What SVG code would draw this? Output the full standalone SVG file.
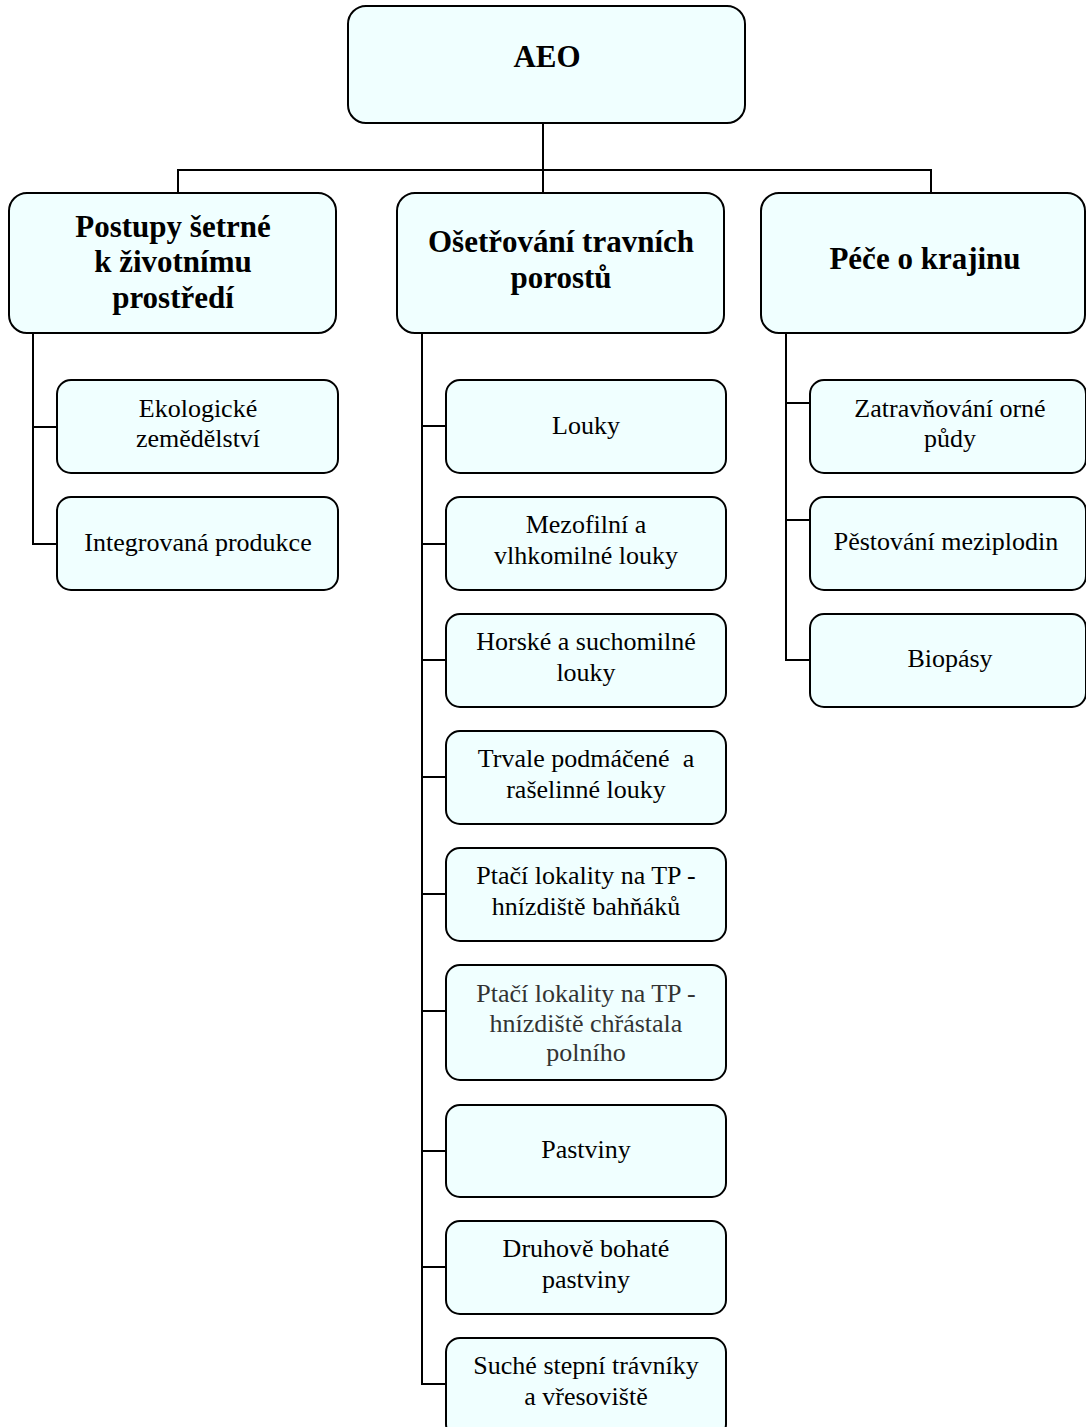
<svg xmlns="http://www.w3.org/2000/svg" width="1086" height="1427" viewBox="0 0 1086 1427">
<style>
.box{fill:#f0ffff;stroke:#000;stroke-width:2}
.h{font-family:"Liberation Serif",serif;font-weight:bold;font-size:31px;text-anchor:middle;fill:#000}
.t{font-family:"Liberation Serif",serif;font-size:26px;text-anchor:middle;fill:#000}
.g{fill:#333}
.c{fill:none;stroke:#000;stroke-width:2}
</style>
<rect width="1086" height="1427" fill="#fff"/>
<g id="connectors">
<path class="c" d="M543,123V193M178,193V170H931V193"/>
<path class="c" d="M33,333V544H57M33,427H57"/>
<path class="c" d="M422,333V1384H446M422,426H446M422,544H446M422,660H446M422,777H446M422,894H446M422,1011H446M422,1151H446M422,1267H446"/>
<path class="c" d="M786,333V660H810M786,403H810M786,520H810"/>
</g>
<g id="aeo"><rect class="box" x="348" y="6" width="397" height="117" rx="18"/><text class="h" x="547" y="67">AEO</text></g>
<g id="postupy"><rect class="box" x="9" y="193" width="327" height="140" rx="18"/><text class="h" x="173" y="237">Postupy šetrné</text><text class="h" x="173" y="272">k životnímu</text><text class="h" x="173" y="308">prostředí</text></g>
<g id="osetrovani"><rect class="box" x="397" y="193" width="327" height="140" rx="18"/><text class="h" x="561" y="252">Ošetřování travních</text><text class="h" x="561" y="288">porostů</text></g>
<g id="pece"><rect class="box" x="761" y="193" width="324" height="140" rx="18"/><text class="h" x="925" y="269">Péče o krajinu</text></g>
<g id="ekologicke"><rect class="box" x="57" y="380" width="281" height="93" rx="14"/><text class="t" x="198" y="417">Ekologické</text><text class="t" x="198" y="447">zemědělství</text></g>
<g id="integrovana"><rect class="box" x="57" y="497" width="281" height="93" rx="14"/><text class="t" x="198" y="551">Integrovaná produkce</text></g>
<g id="louky"><rect class="box" x="446" y="380" width="280" height="93" rx="14"/><text class="t" x="586" y="434">Louky</text></g>
<g id="mezofilni"><rect class="box" x="446" y="497" width="280" height="93" rx="14"/><text class="t" x="586" y="533">Mezofilní a</text><text class="t" x="586" y="564">vlhkomilné louky</text></g>
<g id="horske"><rect class="box" x="446" y="614" width="280" height="93" rx="14"/><text class="t" x="586" y="650">Horské a suchomilné</text><text class="t" x="586" y="681">louky</text></g>
<g id="trvale"><rect class="box" x="446" y="731" width="280" height="93" rx="14"/><text class="t" x="586" y="767" xml:space="preserve">Trvale podmáčené  a</text><text class="t" x="586" y="798">rašelinné louky</text></g>
<g id="ptaci1"><rect class="box" x="446" y="848" width="280" height="93" rx="14"/><text class="t" x="586" y="884">Ptačí lokality na TP -</text><text class="t" x="586" y="915">hnízdiště bahňáků</text></g>
<g id="ptaci2"><rect class="box" x="446" y="965" width="280" height="115" rx="14"/><text class="t g" x="586" y="1002">Ptačí lokality na TP -</text><text class="t g" x="586" y="1032">hnízdiště chřástala</text><text class="t g" x="586" y="1061">polního</text></g>
<g id="pastviny"><rect class="box" x="446" y="1105" width="280" height="92" rx="14"/><text class="t" x="586" y="1158">Pastviny</text></g>
<g id="druhove"><rect class="box" x="446" y="1221" width="280" height="93" rx="14"/><text class="t" x="586" y="1257">Druhově bohaté</text><text class="t" x="586" y="1288">pastviny</text></g>
<g id="suche"><rect class="box" x="446" y="1338" width="280" height="100" rx="14"/><text class="t" x="586" y="1374">Suché stepní trávníky</text><text class="t" x="586" y="1405">a vřesoviště</text></g>
<g id="zatravnovani"><rect class="box" x="810" y="380" width="276" height="93" rx="14"/><text class="t" x="950" y="417">Zatravňování orné</text><text class="t" x="950" y="447">půdy</text></g>
<g id="pestovani"><rect class="box" x="810" y="497" width="276" height="93" rx="14"/><text class="t" x="946" y="550">Pěstování meziplodin</text></g>
<g id="biopasy"><rect class="box" x="810" y="614" width="276" height="93" rx="14"/><text class="t" x="950" y="667">Biopásy</text></g>
</svg>
